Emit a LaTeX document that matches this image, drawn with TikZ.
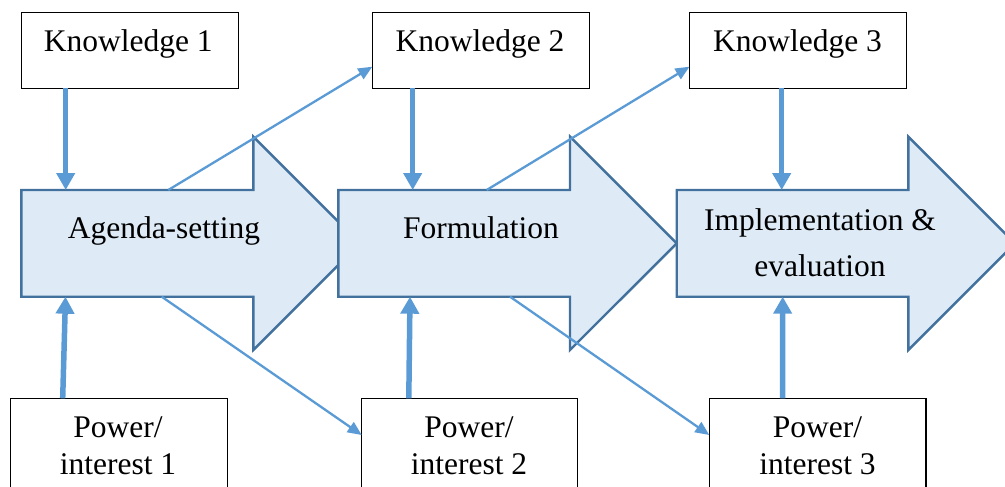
\documentclass[tikz,border=0pt]{standalone}
\usepackage{fontspec}
\setmainfont{Liberation Serif}
\usetikzlibrary{arrows.meta}
\definecolor{flowfill}{HTML}{DEEBF7}
\definecolor{flowedge}{HTML}{41719C}
\definecolor{linkblue}{HTML}{5B9BD5}

\begin{document}
\begin{tikzpicture}[x=1pt,y=-1pt,
  stage/.style={fill=flowfill,draw=flowedge,line width=2.4pt,line join=miter},
  infobox/.style={draw=black,line width=1.3pt,fill=white,minimum width=217pt,
    minimum height=76pt,inner sep=0pt,outer sep=0pt},
  powbox/.style={draw=black,line width=1.3pt,fill=white,minimum width=217pt,
    minimum height=120pt,inner sep=0pt,outer sep=0pt,anchor=north west},
  txt/.style={font=\fontsize{31.5}{37.5}\selectfont,inner sep=0pt,anchor=base,align=center},
  feed/.style={draw=linkblue,line width=5.5pt,-{Triangle[width=18pt,length=17pt]}},
  pass/.style={draw=linkblue,line width=2.3pt,-{Triangle[width=12pt,length=14pt]}},
]
\useasboundingbox (0,0) rectangle (1005,487);
\clip (0,0) rectangle (1005,487);

% policy stages as block arrows, each one laid over the tip of the previous
\path[stage] (21.3,190) -- (253.3,190) -- (253.3,136.7) -- (360,243.4)
  -- (253.3,350) -- (253.3,296.7) -- (21.3,296.7) -- cycle;
\path[stage] (338.3,190) -- (570,190) -- (570,136.7) -- (676.7,243.4)
  -- (570,350) -- (570,296.7) -- (338.3,296.7) -- cycle;
\path[stage] (676.7,190) -- (908.3,190) -- (908.3,136.7) -- (1015,243.4)
  -- (908.3,350) -- (908.3,296.7) -- (676.7,296.7) -- cycle;

% attachment points on the stage arrows
\coordinate (s1k) at (65.7,190);
\coordinate (s2k) at (412.7,190);
\coordinate (s3k) at (781.7,190);
\coordinate (s1p) at (65.5,296.7);
\coordinate (s2p) at (410,296.7);
\coordinate (s3p) at (782.7,296.7);
\coordinate (s1up) at (168.3,190);
\coordinate (s2up) at (486.7,190);
\coordinate (s1dn) at (161.7,296.7);
\coordinate (s2dn) at (510,296.7);

% stage labels (multi-line labels sit on the baseline of their last line)
\node[txt] (st1) at (164,238) {Agenda-setting};
\node[txt] (st2) at (481,238.3) {Formulation};
\node[txt,font=\fontsize{31.5}{46}\selectfont] (st3) at (820,276) {Implementation \&\\evaluation};

% knowledge boxes
\node[infobox] (k1) at (129.8,50.3) {};
\node[infobox] (k2) at (480.8,50.3) {};
\node[infobox] (k3) at (798,50.3) {};
\node[txt] (k1t) at (128.3,51.7) {Knowledge 1};
\node[txt] (k2t) at (480,51.7) {Knowledge 2};
\node[txt] (k3t) at (797.5,51.7) {Knowledge 3};

% power / interest boxes
\node[powbox] (p1) at (10.3,398.3) {};
\node[powbox,minimum width=216pt] (p2) at (361.7,398.3) {};
\node[powbox,minimum width=216.7pt] (p3) at (709.3,398.3) {};
\node[txt] (p1t) at (118,474.5) {Power/\\interest 1};
\node[txt] (p2t) at (469,474.5) {Power/\\interest 2};
\node[txt] (p3t) at (817.5,474.5) {Power/\\interest 3};

% inputs into each stage
\draw[feed] ([xshift=-64.1pt]k1.south) -- (s1k);
\draw[feed] ([xshift=-68.1pt]k2.south) -- (s2k);
\draw[feed] ([xshift=-16.3pt]k3.south) -- (s3k);
\draw[feed] ([xshift=-56.1pt]p1.north) -- (s1p);
\draw[feed] ([xshift=-60.9pt]p2.north) -- (s2p);
\draw[feed] ([xshift=-35.1pt]p3.north) -- (s3p);

% outputs feeding the next stage
\draw[pass] (s1up) -- ([yshift=-16.4pt]k2.west);
\draw[pass] (s2up) -- ([yshift=-16.4pt]k3.west);
\draw[pass] (s1dn) -- ([yshift=-36.7pt]p2.north west);
\draw[pass] (s2dn) -- ([yshift=-36.7pt]p3.north west);
\end{tikzpicture}
\end{document}
